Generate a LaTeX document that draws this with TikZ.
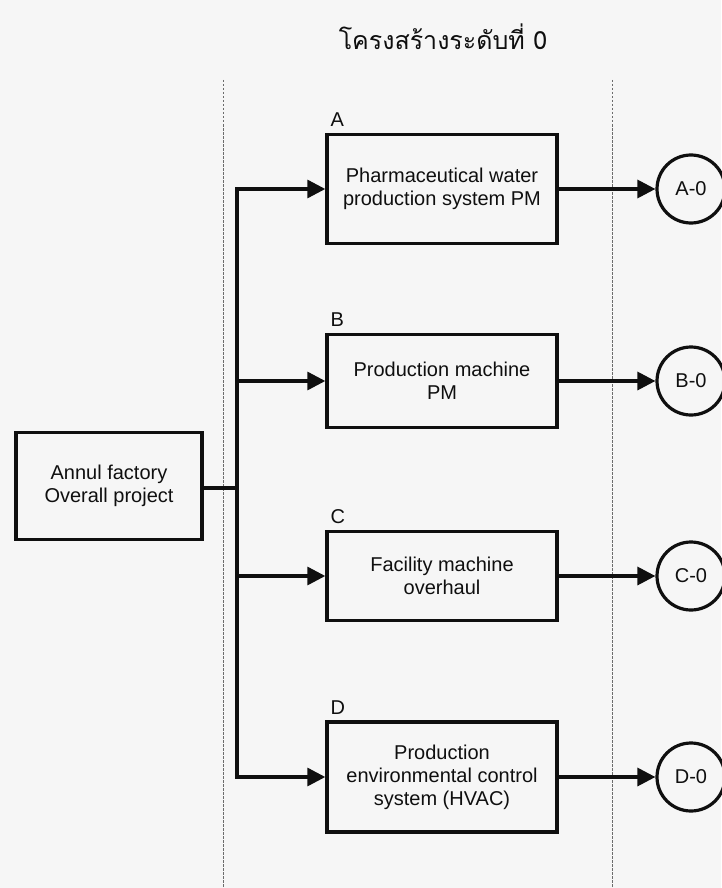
\documentclass[tikz,border=0pt]{standalone}
\usepackage{fontspec}
\setmainfont{Liberation Sans}
\newfontfamily\thaifont[Script=Thai]{Loma}
\usetikzlibrary{arrows.meta}
\definecolor{paper}{RGB}{246,246,246}
\definecolor{ink}{RGB}{15,15,15}
\tikzset{
  every node/.style={text=ink, font=\fontsize{20}{23}\selectfont},
  stagebox/.style={draw=ink, line width=3.4pt, fill=paper, align=center,
    minimum width=230pt, inner sep=2pt},
  endcircle/.style={circle, draw=ink, line width=3.2pt, fill=paper,
    minimum size=68pt, inner sep=0pt},
  flow/.style={draw=ink, line width=3.2pt},
  flowarrow/.style={flow, -{Triangle[length=18pt,width=18pt]}},
  divider/.style={draw=gray!85!black, line width=0.9pt, dash pattern=on 2.5pt off 1.5pt},
  tag/.style={anchor=south west, inner sep=0pt},
}
\begin{document}
\begin{tikzpicture}[x=1pt, y=-1pt]
  % page
  \fill[paper] (0,0) rectangle (721,888);
  \useasboundingbox (0,0) rectangle (721,888);

  % title
  \node (title) at (443,37) {\thaifont\fontsize{25}{28}\selectfont โครงสร้างระดับที่ 0};

  % dashed dividers
  \coordinate (dl1) at (223,80);
  \coordinate (dl2) at (223,888);
  \coordinate (dr1) at (612,80);
  \coordinate (dr2) at (612,888);
  \draw[divider] (dl1) -- (dl2);
  \draw[divider] (dr1) -- (dr2);

  % root
  \node[stagebox, minimum width=186pt, minimum height=107pt] (root) at (109,486)
    {Annul factory\\Overall project};

  % stages
  \node[stagebox, minimum height=109pt] (A) at (442,189)
    {Pharmaceutical water\\production system PM};
  \node[stagebox, minimum height=93pt] (B) at (442,381)
    {Production machine\\PM};
  \node[stagebox, minimum height=89pt] (C) at (442,576)
    {Facility machine\\overhaul};
  \node[stagebox, minimum height=110pt] (D) at (442,777)
    {Production\\environmental control\\system (HVAC)};

  % stage letters
  \node[tag] (lA) at (A.north west) [yshift=6pt, xshift=5pt] {A};
  \node[tag] (lB) at (B.north west) [yshift=6pt, xshift=5pt] {B};
  \node[tag] (lC) at (C.north west) [yshift=6pt, xshift=5pt] {C};
  \node[tag] (lD) at (D.north west) [yshift=6pt, xshift=5pt] {D};

  % end markers
  \node[endcircle] (eA) at (691,189) {A-0};
  \node[endcircle] (eB) at (691,381) {B-0};
  \node[endcircle] (eC) at (691,576) {C-0};
  \node[endcircle] (eD) at (691,777) {D-0};

  % trunk
  \coordinate (tA) at (237,189);
  \coordinate (tB) at (237,381);
  \coordinate (tC) at (237,576);
  \coordinate (tD) at (237,777);
  \coordinate (tJ) at (237,488);
  \draw[flow, line cap=rect] (tA) -- (tD);
  \draw[flow] (root.east |- tJ) -- (tJ);

  % branches
  \draw[flowarrow] (tA) -- (A.west);
  \draw[flowarrow] (tB) -- (B.west);
  \draw[flowarrow] (tC) -- (C.west);
  \draw[flowarrow] (tD) -- (D.west);

  % outputs
  \draw[flowarrow] (A.east) -- (eA.west);
  \draw[flowarrow] (B.east) -- (eB.west);
  \draw[flowarrow] (C.east) -- (eC.west);
  \draw[flowarrow] (D.east) -- (eD.west);
\end{tikzpicture}
\end{document}
